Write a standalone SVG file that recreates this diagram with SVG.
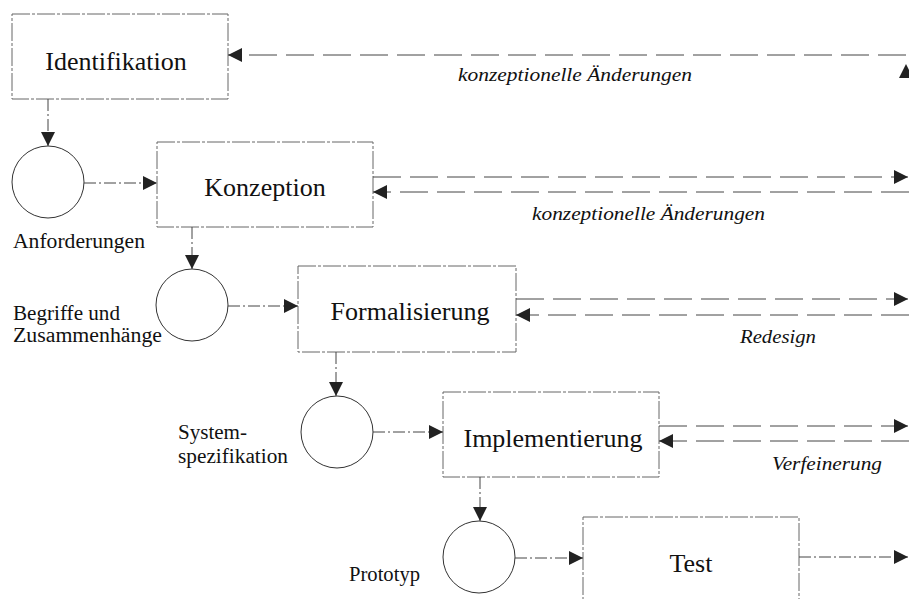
<svg xmlns="http://www.w3.org/2000/svg" width="909" height="599" viewBox="0 0 909 599">
  <style>
    .box { fill: #fff; stroke: #666; stroke-width: 1; stroke-dasharray: 18 2 3 2; }
    .state { fill: #fff; stroke: #333; stroke-width: 1; }
    .flow { fill: none; stroke: #444; stroke-width: 1; stroke-dasharray: 12 3 2 3; }
    .back { fill: none; stroke: #444; stroke-width: 1; stroke-dasharray: 28 9; }
    text { font-family: "Times New Roman", "Liberation Serif", "DejaVu Serif", serif; fill: #111; }
    .title { font-size: 26px; text-anchor: middle; }
    .label { font-size: 20px; }
    .note { font-size: 19px; font-style: italic; }
  </style>
  <defs>
    <marker id="head" viewBox="0 0 14 14" refX="14" refY="7" markerWidth="14" markerHeight="14" markerUnits="userSpaceOnUse" orient="auto">
      <path d="M0,0 L14,7 L0,14 Z" fill="#222"/>
    </marker>
  </defs>

  <rect width="909" height="599" fill="#fff"/>

  <!-- phases -->
  <g id="identifikation">
    <rect class="box" x="12" y="14" width="216" height="85"/>
    <text class="title" x="116" y="70" font-family="Liberation Serif, DejaVu Serif, serif">Identifikation</text>
  </g>
  <g id="konzeption">
    <rect class="box" x="157" y="142" width="216" height="85"/>
    <text class="title" x="265" y="196" font-family="Liberation Serif, DejaVu Serif, serif">Konzeption</text>
  </g>
  <g id="formalisierung">
    <rect class="box" x="298" y="266" width="218" height="86"/>
    <text class="title" x="410" y="320" font-family="Liberation Serif, DejaVu Serif, serif">Formalisierung</text>
  </g>
  <g id="implementierung">
    <rect class="box" x="443" y="392" width="216" height="85"/>
    <text class="title" x="553" y="447" font-family="Liberation Serif, DejaVu Serif, serif">Implementierung</text>
  </g>
  <g id="test">
    <path class="box" d="M583,620 L583,517 L799,517 L799,620"/>
    <text class="title" x="691" y="572" font-family="Liberation Serif, DejaVu Serif, serif">Test</text>
  </g>

  <!-- intermediate results -->
  <g id="anforderungen">
    <circle class="state" cx="48" cy="182" r="36"/>
    <text class="label" x="13" y="248" textLength="132" lengthAdjust="spacingAndGlyphs">Anforderungen</text>
  </g>
  <g id="begriffe">
    <circle class="state" cx="192" cy="305" r="36"/>
    <text class="label" x="13" y="320" textLength="107" lengthAdjust="spacingAndGlyphs">Begriffe und</text>
    <text class="label" x="13" y="342" textLength="149" lengthAdjust="spacingAndGlyphs">Zusammenhänge</text>
  </g>
  <g id="systemspezifikation">
    <circle class="state" cx="337" cy="432" r="36"/>
    <text class="label" x="178" y="439" textLength="69" lengthAdjust="spacingAndGlyphs">System-</text>
    <text class="label" x="178" y="463" textLength="110" lengthAdjust="spacingAndGlyphs">spezifikation</text>
  </g>
  <g id="prototyp">
    <circle class="state" cx="479" cy="557" r="36"/>
    <text class="label" x="349" y="581" textLength="71" lengthAdjust="spacingAndGlyphs">Prototyp</text>
  </g>

  <!-- feedback labels -->
  <g id="feedback-labels">
    <text class="note" x="458" y="81" textLength="234" lengthAdjust="spacingAndGlyphs">konzeptionelle Änderungen</text>
    <text class="note" x="532" y="220" textLength="233" lengthAdjust="spacingAndGlyphs">konzeptionelle Änderungen</text>
    <text class="note" x="740" y="343" textLength="76" lengthAdjust="spacingAndGlyphs">Redesign</text>
    <text class="note" x="772" y="470" textLength="110" lengthAdjust="spacingAndGlyphs">Verfeinerung</text>
  </g>

  <!-- connectors -->
  <g id="connectors">
    <!-- forward flow -->
    <line class="flow" x1="48" y1="99" x2="48" y2="146" marker-end="url(#head)"/>
    <line class="flow" x1="84" y1="183" x2="157" y2="183" marker-end="url(#head)"/>
    <line class="flow" x1="192" y1="227" x2="192" y2="269" marker-end="url(#head)"/>
    <line class="flow" x1="228" y1="306" x2="298" y2="306" marker-end="url(#head)"/>
    <line class="flow" x1="336" y1="352" x2="336" y2="396" marker-end="url(#head)"/>
    <line class="flow" x1="373" y1="432" x2="443" y2="432" marker-end="url(#head)"/>
    <line class="flow" x1="480" y1="477" x2="480" y2="521" marker-end="url(#head)"/>
    <line class="flow" x1="515" y1="558" x2="583" y2="558" marker-end="url(#head)"/>
    <line class="flow" x1="799" y1="557" x2="908" y2="557" marker-end="url(#head)"/>

    <!-- feedback paths -->
    <line class="back" x1="906" y1="55" x2="228" y2="55" marker-end="url(#head)"/>
    <path d="M906,64 L913,78 L899,78 Z" fill="#222"/>
    <line class="back" x1="373" y1="177" x2="908" y2="177" marker-end="url(#head)"/>
    <line class="back" x1="909" y1="192" x2="373" y2="192" marker-end="url(#head)"/>
    <line class="back" x1="516" y1="299" x2="908" y2="299" marker-end="url(#head)"/>
    <line class="back" x1="909" y1="315" x2="516" y2="315" marker-end="url(#head)"/>
    <line class="back" x1="659" y1="426" x2="908" y2="426" marker-end="url(#head)"/>
    <line class="back" x1="909" y1="441" x2="659" y2="441" marker-end="url(#head)"/>
  </g>
</svg>
